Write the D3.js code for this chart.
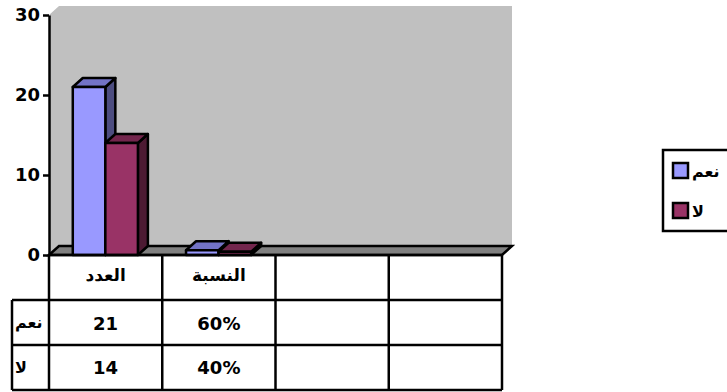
<!DOCTYPE html>
<html>
<head>
	<meta charset="utf-8">
	<title>3D column chart with data table</title>
	<script src="https://cdn.jsdelivr.net/npm/d3@7"></script>
	<style>
		body { margin: 0; background: #fff; }
		svg text { font-family: "DejaVu Sans", Tahoma, sans-serif; font-weight: bold; }
	</style>
</head>
<body>
	<div id="chart"></div>
	<script>

	// data

	const categories  = ["العدد", "النسبة", "", ""];
	const seriesNames = ["نعم", "لا"];
	const yesValues   = [21, 0.6];
	const noValues    = [14, 0.4];
	const yesLabels   = ["21", "60%", "", ""];
	const noLabels    = ["14", "40%", "", ""];
	const yTicks      = [0, 10, 20, 30];

	// look

	const width  = 727;
	const height = 392;
	const dx = 10, dy = -9;                 // 3d depth offset
	const colors = [
		{ front: "#9999ff", top: "#7373c6", side: "#4d4d80" },
		{ front: "#993366", top: "#73264d", side: "#4d1a33" },
	];
	const fontSize   = "18px";
	const headSize   = "17px";
	const labelSize  = "16px";
	const lineW      = 2.5;

	const svg = d3.select("#chart").append("svg")
		.attr("width", width)
		.attr("height", height)
		.attr("viewBox", [0, 0, width, height]);

	const x0 = d3.scaleBand().domain(d3.range(categories.length)).range([49, 502]);
	const y  = d3.scaleLinear().domain([0, 30]).range([255, 15]);
	const rows = d3.scaleBand().domain(["head", ...seriesNames]).range([255, 390]);

	const left = x0.range()[0], right = x0.range()[1];
	const y0 = y(0), yTop = y(30);

	// walls
	svg.append("path")
		.attr("fill", "#c0c0c0")
		.attr("d", `M${left},${y0}L${left},${yTop}L${left + dx},${yTop + dy}L${right + dx},${yTop + dy}L${right + dx},${y0 + dy}L${left + dx},${y0 + dy}Z`);

	// floor
	svg.append("path")
		.attr("fill", "#808080")
		.attr("stroke", "#000")
		.attr("stroke-width", lineW)
		.attr("d", `M${left},${y0}L${left + dx},${y0 + dy}L${right + dx},${y0 + dy}L${right},${y0}Z`);

	// bars
	const series = [yesValues, noValues];
	categories.forEach((c, i) => {
		const x1 = d3.scaleBand().domain(seriesNames)
			.range([x0(i) + x0.bandwidth() * 0.21, x0(i) + x0.bandwidth() * 0.785]);
		seriesNames.forEach((s, j) => {
			const v = series[j][i];
			if (v === undefined) return;
			const xa = x1(s), w = x1.bandwidth(), yv = y(v);
			const g = svg.append("g")
				.attr("stroke", "#000")
				.attr("stroke-width", lineW)
				.attr("stroke-linejoin", "round");
			g.append("path")
				.attr("fill", colors[j].side)
				.attr("d", `M${xa + w},${yv}L${xa + w + dx},${yv + dy}L${xa + w + dx},${y0 + dy}L${xa + w},${y0}Z`);
			g.append("path")
				.attr("fill", colors[j].top)
				.attr("d", `M${xa},${yv}L${xa + dx},${yv + dy}L${xa + w + dx},${yv + dy}L${xa + w},${yv}Z`);
			g.append("rect")
				.attr("fill", colors[j].front)
				.attr("x", xa).attr("y", yv)
				.attr("width", w).attr("height", y0 - yv);
		});
	});

	// y axis
	svg.append("g")
		.attr("transform", `translate(${left},0)`)
		.call(d3.axisLeft(y).tickValues(yTicks).tickSize(6).tickSizeOuter(0).tickPadding(3))
		.call(g => g.selectAll("line, path").attr("stroke", "#000").attr("stroke-width", lineW))
		.call(g => g.selectAll("text").attr("fill", "#000").style("font-size", fontSize)
			.style("font-family", "'DejaVu Sans', sans-serif").style("font-weight", "bold"));

	// data table
	const table = svg.append("g").attr("stroke", "#000").attr("stroke-width", lineW);
	const labelLeft = 12;
	table.append("line").attr("x1", left).attr("x2", right).attr("y1", y0).attr("y2", y0);
	seriesNames.forEach(s => {
		table.append("line").attr("x1", labelLeft).attr("x2", right)
			.attr("y1", rows(s)).attr("y2", rows(s));
	});
	table.append("line").attr("x1", labelLeft).attr("x2", right)
		.attr("y1", rows.range()[1]).attr("y2", rows.range()[1]);
	table.append("line").attr("x1", labelLeft).attr("x2", labelLeft)
		.attr("y1", rows(seriesNames[0])).attr("y2", rows.range()[1]);
	d3.range(categories.length + 1).forEach(i => {
		const xv = i < categories.length ? x0(i) : right;
		table.append("line").attr("x1", xv).attr("x2", xv)
			.attr("y1", y0).attr("y2", rows.range()[1]);
	});

	const cell = (x, yy, txt, anchor, size) => svg.append("text")
		.attr("x", x).attr("y", yy)
		.attr("text-anchor", anchor)
		.attr("dominant-baseline", "central")
		.attr("fill", "#000")
		.style("font-size", size)
		.text(txt);

	categories.forEach((c, i) => {
		const cx = x0(i) + x0.bandwidth() / 2;
		cell(cx, rows("head") + rows.bandwidth() / 2 - 3, c, "middle", headSize);
		cell(cx, rows(seriesNames[0]) + rows.bandwidth() / 2 + 1, yesLabels[i], "middle", fontSize);
		cell(cx, rows(seriesNames[1]) + rows.bandwidth() / 2, noLabels[i], "middle", fontSize);
	});
	seriesNames.forEach(s => cell(labelLeft + 3, rows(s) + rows.bandwidth() / 2, s, "start", labelSize));

	// legend
	const legend = svg.append("g");
	legend.append("rect")
		.attr("x", 663).attr("y", 150).attr("width", 90).attr("height", 81)
		.attr("fill", "#fff").attr("stroke", "#000").attr("stroke-width", lineW);
	seriesNames.forEach((s, j) => {
		const ly = 171 + j * 40;
		legend.append("rect")
			.attr("x", 673).attr("y", ly - 8).attr("width", 15).attr("height", 15)
			.attr("fill", colors[j].front).attr("stroke", "#000").attr("stroke-width", lineW);
		legend.append("text")
			.attr("x", 692).attr("y", ly)
			.attr("dominant-baseline", "central")
			.attr("fill", "#000")
			.style("font-size", labelSize)
			.text(s);
	});

	</script>
</body>
</html>
